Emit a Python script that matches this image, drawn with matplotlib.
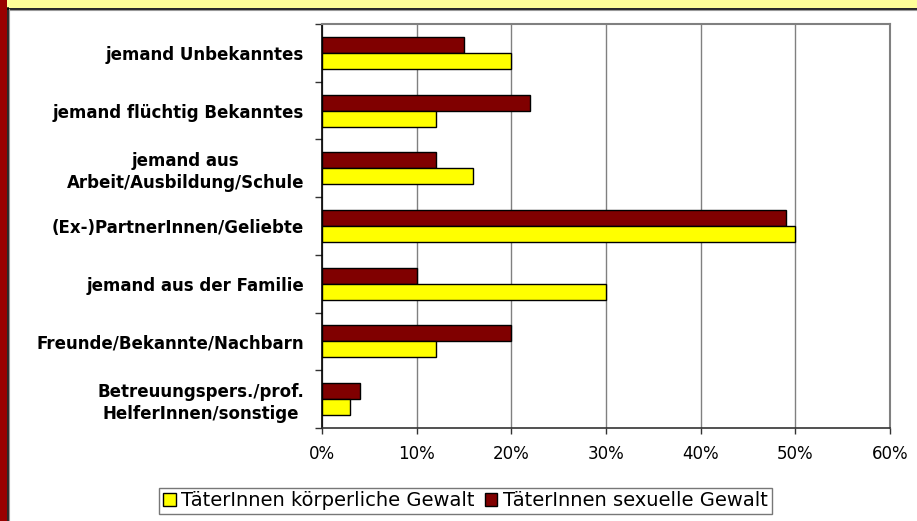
import numpy as np
import matplotlib.pyplot as plt
from matplotlib.patches import Rectangle
from matplotlib.lines import Line2D
from matplotlib.ticker import FuncFormatter, FixedLocator

plt.rcParams['font.family'] = ['DejaVu Sans']

# ==========================================
# DATA
# ==========================================
categories = [
    "jemand Unbekanntes",
    "jemand flüchtig Bekanntes",
    "jemand aus\nArbeit/Ausbildung/Schule",
    "(Ex-)PartnerInnen/Geliebte",
    "jemand aus der Familie",
    "Freunde/Bekannte/Nachbarn",
    "Betreuungspers./prof.\nHelferInnen/sonstige",
]
koerperlich = [20, 12, 16, 50, 30, 12, 3]
sexuell = [15, 22, 12, 49, 10, 20, 4]
series_names = ["TäterInnen körperliche Gewalt", "TäterInnen sexuelle Gewalt"]
x_ticks = [0, 10, 20, 30, 40, 50, 60]

col_yellow = '#FFFF00'
col_red = '#800000'

# ==========================================
# FIGURE
# ==========================================
W, H = 917, 521
fig = plt.figure(figsize=(W / 100, H / 100), dpi=100)
fig.patch.set_facecolor('white')

# decorative frame: red strip on the left, yellow banner on top
fig.patches.append(Rectangle((0, 0), 7 / W, 1, transform=fig.transFigure,
                             facecolor='#990000', edgecolor='none', zorder=0))
fig.patches.append(Rectangle((7 / W, 1 - 8 / H), 1, 8 / H, transform=fig.transFigure,
                             facecolor='#FFFF99', edgecolor='none', zorder=0))
fig.lines.append(Line2D([7.5 / W, 1], [1 - 8.5 / H, 1 - 8.5 / H], transform=fig.transFigure,
                        color='black', lw=1.2))
fig.lines.append(Line2D([8.5 / W, 1], [1 - 9.8 / H, 1 - 9.8 / H], transform=fig.transFigure,
                        color='#999999', lw=0.8))
fig.lines.append(Line2D([7.5 / W, 7.5 / W], [0, 1 - 8 / H], transform=fig.transFigure,
                        color='black', lw=1.2))
fig.lines.append(Line2D([8.8 / W, 8.8 / W], [0, 1 - 9 / H], transform=fig.transFigure,
                        color='#999999', lw=0.8))
# cut-off title in the banner (only the descenders are visible)
fig.text(162 / W, 1 + 9 / H, "gig", fontsize=24, fontweight='bold',
         family='Liberation Sans', ha='left', va='baseline', color='black')

left, right, top, bottom = 322, 890, 24, 428
ax = fig.add_axes([left / W, 1 - bottom / H, (right - left) / W, (bottom - top) / H])

y = np.arange(len(categories))
h = 0.276
ax.barh(y - h / 2, sexuell, height=h, color=col_red, edgecolor='black', lw=1.0,
        label=series_names[1], zorder=3)
ax.barh(y + h / 2, koerperlich, height=h, color=col_yellow, edgecolor='black', lw=1.0,
        label=series_names[0], zorder=3)

ax.set_xlim(0, 60)
ax.set_ylim(len(categories) - 0.5, -0.5)

ax.set_xticks(x_ticks)
ax.xaxis.set_major_formatter(FuncFormatter(lambda v, p: f"{v:.0f}%"))
ax.tick_params(axis='x', direction='out', length=4, width=1, color='#333333',
               labelsize=12, pad=8)
ax.grid(axis='x', color='#808080', lw=1, zorder=1)

# category boundaries carry the tick marks, centers carry the labels
ax.yaxis.set_major_locator(FixedLocator(np.arange(-0.5, len(categories), 1)))
ax.yaxis.set_minor_locator(FixedLocator(y))
ax.set_yticklabels([], minor=False)
ax.set_yticklabels(categories, minor=True, fontsize=12, fontweight='bold',
                   multialignment='center', linespacing=1.3)
ax.tick_params(axis='y', which='major', direction='out', length=5, width=1, color='#333333')
ax.tick_params(axis='y', which='minor', length=0, pad=13)

for s in ['top', 'right']:
    ax.spines[s].set_color('#808080')
    ax.spines[s].set_linewidth(1.5)
ax.spines['left'].set_color('black')
ax.spines['left'].set_linewidth(1.2)
ax.spines['bottom'].set_color('#333333')
ax.spines['bottom'].set_linewidth(1.2)

handles, labels = ax.get_legend_handles_labels()
leg = fig.legend(handles[::-1], labels[::-1], loc='center', ncol=2,
                 bbox_to_anchor=(465.5 / W, 1 - 501 / H), fontsize=14,
                 frameon=True, fancybox=False, edgecolor='#555555',
                 handlelength=0.65, handleheight=0.65, handletextpad=0.3,
                 columnspacing=0.5, borderpad=0.2, borderaxespad=0)
leg.get_frame().set_linewidth(1.0)

fig.savefig("out.png", dpi=100)
